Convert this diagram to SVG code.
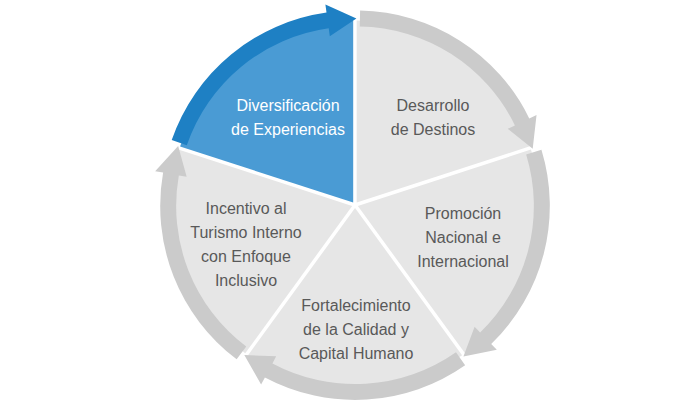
<svg xmlns="http://www.w3.org/2000/svg" width="700" height="400" viewBox="0 0 700 400">
<defs>
<path id="sec" d="M355,205 L181.9,148.8 A182,182 0 0 1 355,23 Z"/>
<path id="band" d="M173.5,142.5 A192,192 0 0 1 328.3,14.9 L327.2,6.9 L358.2,21 L331.6,38.6 L330.5,30.7 A176,176 0 0 0 188.6,147.7 Z"/>
</defs>
<style>
.g .s{fill:#e6e6e6}.g .b{fill:#cbcbcb}
.bl .s{fill:#4a9bd4}.bl .b{fill:#1e80c4}
text{font-family:"Liberation Sans",Arial,sans-serif;font-size:16px;text-anchor:middle}
.g text{fill:#595959}.bl text{fill:#fff}
</style>
<rect width="700" height="400" fill="#fff"/>
<g id="connectors"/>
<g id="n1" class="bl">
<g transform="rotate(0 355 205) translate(-1.8 -2.4)"><use href="#sec" class="s"/><use href="#band" class="b"/></g>
<text x="288" y="111">Diversificación</text><text x="288" y="135">de Experiencias</text>
</g>
<g id="n2" class="g">
<g transform="rotate(72 355 205) translate(-1.8 -2.4)"><use href="#sec" class="s"/><use href="#band" class="b"/></g>
<text x="433" y="111">Desarrollo</text><text x="433" y="135">de Destinos</text>
</g>
<g id="n3" class="g">
<g transform="rotate(144 355 205) translate(-1.8 -2.4)"><use href="#sec" class="s"/><use href="#band" class="b"/></g>
<text x="463" y="219">Promoción</text><text x="463" y="243">Nacional e</text><text x="463" y="267">Internacional</text>
</g>
<g id="n4" class="g">
<g transform="rotate(216 355 205) translate(-1.8 -2.4)"><use href="#sec" class="s"/><use href="#band" class="b"/></g>
<text x="356" y="311">Fortalecimiento</text><text x="356" y="335">de la Calidad y</text><text x="356" y="359">Capital Humano</text>
</g>
<g id="n5" class="g">
<g transform="rotate(288 355 205) translate(-1.8 -2.4)"><use href="#sec" class="s"/><use href="#band" class="b"/></g>
<text x="246" y="214">Incentivo al</text><text x="246" y="238">Turismo Interno</text><text x="246" y="262">con Enfoque</text><text x="246" y="286">Inclusivo</text>
</g>
</svg>
